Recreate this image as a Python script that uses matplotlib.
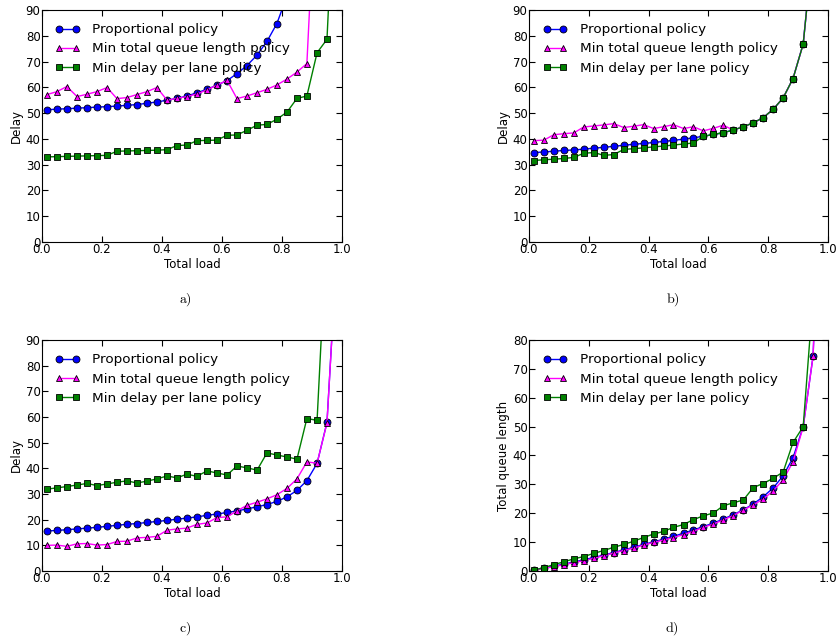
import matplotlib
matplotlib.use("Agg")
import matplotlib.pyplot as plt

# offered load at each simulation point
load = [0.017, 0.05, 0.083, 0.117, 0.15, 0.183, 0.217, 0.25, 0.283, 0.317,
        0.35, 0.383, 0.417, 0.45, 0.483, 0.517, 0.55, 0.583, 0.617, 0.65,
        0.683, 0.717, 0.75, 0.783, 0.817, 0.85, 0.883, 0.917, 0.95, 0.983]

labels = ["Proportional policy", "Min total queue length policy", "Min delay per lane policy"]

# a) delay
prop_a = [51.3, 51.5, 51.7, 51.9, 52.1, 52.3, 52.5, 52.7, 53.0, 53.3, 53.8, 54.3,
          55.0, 55.7, 56.6, 57.9, 59.2, 60.8, 62.6, 65.3, 68.4, 72.5, 77.8, 84.7, 95.5]
minq_a = [57.2, 58.3, 60.3, 56.4, 57.3, 58.3, 59.9, 55.6, 56.0, 57.2, 58.3, 59.9,
          55.0, 55.7, 56.4, 57.4, 59.0, 60.8, 62.7, 55.6, 56.6, 57.9, 59.2, 60.9,
          63.2, 65.9, 69.2, 150.0]
delay_a = [33.0, 33.1, 33.2, 33.3, 33.4, 33.5, 33.6, 35.2, 35.3, 35.4, 35.5, 35.6,
           35.8, 37.4, 37.6, 39.3, 39.4, 39.5, 41.4, 41.5, 43.3, 45.3, 45.6, 47.6,
           50.4, 55.7, 56.6, 73.4, 78.6, 160.0]

# b) delay
prop_b = [34.7, 34.9, 35.2, 35.5, 35.7, 36.0, 36.4, 36.7, 37.1, 37.5, 37.9, 38.2,
          38.6, 39.0, 39.4, 39.9, 40.4, 41.0, 41.7, 42.4, 43.4, 44.7, 46.2, 48.2,
          51.5, 55.9, 63.4, 76.8, 115.0]
minq_b = [39.3, 39.5, 41.6, 42.0, 42.3, 44.6, 45.0, 45.4, 45.9, 44.4, 44.9, 45.5,
          44.0, 44.7, 45.5, 44.0, 44.7, 43.1, 44.1, 45.3, 43.4, 44.7, 46.2, 48.2,
          51.5, 55.9, 63.4, 76.8, 115.0]
delay_b = [31.6, 31.9, 32.1, 32.4, 32.8, 34.4, 34.7, 33.6, 33.9, 35.9, 36.2, 36.5,
           36.9, 37.2, 37.6, 38.0, 38.4, 41.0, 41.7, 42.4, 43.4, 44.7, 46.2, 48.2,
           51.5, 55.9, 63.4, 76.8, 115.0]

# c) delay
prop_c = [15.6, 15.8, 16.1, 16.4, 16.7, 17.0, 17.4, 17.8, 18.2, 18.5, 18.9, 19.3,
          19.7, 20.2, 20.6, 21.1, 21.7, 22.2, 22.8, 23.4, 24.2, 25.0, 25.9, 27.1,
          28.9, 31.4, 35.2, 41.9, 57.9, 125.0]
minq_c = [10.0, 10.1, 9.6, 10.6, 10.7, 10.1, 10.3, 11.5, 11.6, 12.9, 13.1, 13.5,
          15.9, 16.4, 16.7, 18.2, 18.7, 20.8, 21.1, 23.4, 25.6, 26.8, 28.1, 29.7,
          32.2, 35.9, 42.5, 42.0, 57.7, 125.0]
delay_c = [31.9, 32.4, 32.9, 33.5, 34.1, 33.3, 33.9, 34.6, 35.1, 34.3, 35.0, 35.9,
           37.0, 36.3, 37.7, 36.9, 39.0, 38.2, 37.4, 40.9, 40.2, 39.3, 46.0, 45.2,
           44.4, 43.6, 59.4, 58.7, 135.0]

# d) total queue length
prop_d = [0.3, 1.0, 1.7, 2.4, 3.1, 3.9, 4.7, 5.5, 6.4, 7.3, 8.2, 9.2,
          10.1, 11.0, 12.0, 13.1, 14.2, 15.4, 16.6, 18.0, 19.5, 21.2, 23.2, 25.7,
          28.8, 33.0, 39.2, 50.0, 74.4, 160.0]
minq_d = [0.2, 0.9, 1.5, 2.2, 2.9, 3.6, 4.4, 5.3, 6.2, 7.1, 7.9, 9.0,
          9.9, 10.7, 11.6, 12.6, 13.8, 15.1, 16.3, 17.7, 19.2, 21.1, 22.9, 24.9,
          27.8, 31.6, 37.8, 49.9, 74.3, 160.0]
delay_d = [0.3, 1.2, 2.2, 3.2, 4.2, 5.0, 6.1, 7.1, 8.2, 9.2, 10.3, 11.6,
           12.8, 13.7, 15.1, 16.1, 17.8, 19.1, 20.1, 22.6, 23.6, 24.6, 28.9, 30.3,
           32.1, 34.3, 44.5, 50.0, 95.0]

plt.rcParams['mathtext.fontset'] = 'cm'
plt.rcParams['xtick.direction'] = 'in'
plt.rcParams['ytick.direction'] = 'in'
plt.rcParams['xtick.top'] = True
plt.rcParams['ytick.right'] = True
plt.rcParams['xtick.major.size'] = 4
plt.rcParams['ytick.major.size'] = 4
plt.rcParams['xtick.labelsize'] = 8.5
plt.rcParams['ytick.labelsize'] = 8.5
plt.rcParams['axes.labelsize'] = 8.5

fig = plt.figure(figsize=(8.39, 6.41), dpi=100)

panels = [
    ([0.050, 0.6225, 0.3576, 0.362], prop_a, minq_a, delay_a, "Delay", 90, "a)", (0.221, 0.532)),
    ([0.6305, 0.6225, 0.3564, 0.362], prop_b, minq_b, delay_b, "Delay", 90, "b)", (0.802, 0.532)),
    ([0.050, 0.1092, 0.3576, 0.3604], prop_c, minq_c, delay_c, "Delay", 90, "c)", (0.221, 0.019)),
    ([0.6305, 0.1092, 0.3564, 0.3604], prop_d, minq_d, delay_d, "Total queue length", 80, "d)", (0.801, 0.019)),
]

styles = [dict(color='b', marker='o'),
          dict(color='#ff00ff', marker='^'),
          dict(color='g', marker='s')]

for rect, p, q, d, ylab, ytop, cap, cpos in panels:
    ax = fig.add_axes(rect)
    for vals, st, lab in zip([p, q, d], styles, labels):
        ax.plot(load[:len(vals)], vals, color=st['color'], marker=st['marker'],
                markersize=5, markeredgecolor='k', markeredgewidth=0.6,
                markerfacecolor=st['color'], linewidth=1, label=lab)
    ax.set_xlim(0, 1.0)
    ax.set_ylim(0, ytop)
    ax.set_xticks([0.0, 0.2, 0.4, 0.6, 0.8, 1.0])
    ax.set_yticks(range(0, ytop + 1, 10))
    ax.set_xlabel("Total load", labelpad=1)
    ax.set_ylabel(ylab, labelpad=2)
    ax.tick_params(pad=1)
    ax.legend(loc='upper left', frameon=False, numpoints=2, fontsize=9.7,
              handlelength=1.85, handletextpad=0.9, borderaxespad=0.6,
              labelspacing=0.45)
    fig.text(cpos[0], cpos[1], r'$\mathrm{' + cap + '}$', ha='center', va='center', fontsize=10)

fig.savefig("out.png", dpi=100)
